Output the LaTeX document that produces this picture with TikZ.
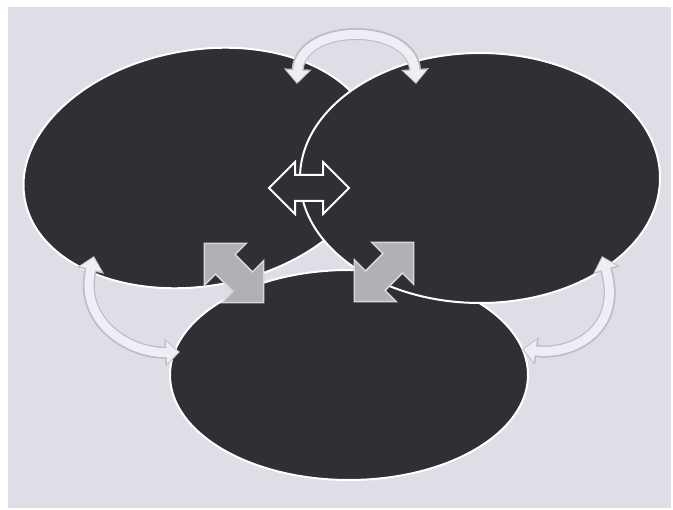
\documentclass[tikz,border=0pt]{standalone}
\usepackage{tikz}
\usetikzlibrary{shapes.geometric, shapes.arrows, arrows.meta}
\definecolor{pagebg}{RGB}{221,222,230}
\definecolor{ovaldark}{RGB}{46,48,54}
\definecolor{arcfill}{RGB}{238,239,244}
\definecolor{arcedge}{RGB}{188,189,197}
\definecolor{linkgray}{RGB}{176,177,183}
\definecolor{linkedge}{RGB}{214,214,220}

\begin{document}
\begin{tikzpicture}[
  x=1pt, y=-1pt,
  oval/.style     = {ellipse, draw=white, line width=2pt, fill=ovaldark, inner sep=0pt},
  linkwhite/.style= {double arrow, draw=white, line width=2pt, fill=ovaldark,
                     inner xsep=0pt, inner ysep=12pt, double arrow head extend=13pt,
                     minimum height=80pt},
  linkgrey/.style = {double arrow, draw=linkedge, line width=1.5pt, fill=linkgray,
                     inner xsep=0pt, inner ysep=13pt, double arrow head extend=16pt,
                     minimum height=84pt},
  arcout/.style   = {line width=12pt, draw=arcedge,
                     {Triangle[length=15pt,width=27pt]}-{Triangle[length=15pt,width=27pt]}},
  arcin/.style    = {line width=9pt, draw=arcfill, shorten <=1.5pt, shorten >=1.5pt,
                     {Triangle[length=12pt,width=22pt]}-{Triangle[length=12pt,width=22pt]}}
]
% page
\fill[white]  (0,0) rectangle (673,510);
\fill[pagebg] (8,7) rectangle (671,508);

% the three ovals
\node[oval, minimum width=358pt, minimum height=210pt] (bottomoval) at (349,375) {};
\node[oval, minimum width=356pt, minimum height=236pt, rotate=10] (leftoval) at (200,168) {};
\node[oval, minimum width=360pt, minimum height=250pt] (rightoval) at (480,178) {};

% ends of the loop arrows
\coordinate (topL)   at (297,84);
\coordinate (topR)   at (416,84);
\coordinate (sideL)  at (94,256);
\coordinate (sideLB) at (180,352);
\coordinate (sideR)  at (602,256);
\coordinate (sideRB) at (522,349);

\draw[arcout] (topL) .. controls (300,22) and (412,22) .. (topR);
\draw[arcin]  (topL) .. controls (300,22) and (412,22) .. (topR);
\draw[arcout] (sideL) .. controls (78,322) and (130,354) .. (sideLB);
\draw[arcin]  (sideL) .. controls (78,322) and (130,354) .. (sideLB);
\draw[arcout] (sideR) .. controls (624,330) and (572,356) .. (sideRB);
\draw[arcin]  (sideR) .. controls (624,330) and (572,356) .. (sideRB);

% links where the ovals meet
\node[linkwhite] (linkLR) at (309,188) {};
\node[linkgrey, rotate=-45] (linkLB) at (234,273) {};
\node[linkgrey, rotate=45]  (linkRB) at (384,272) {};
\end{tikzpicture}
\end{document}
